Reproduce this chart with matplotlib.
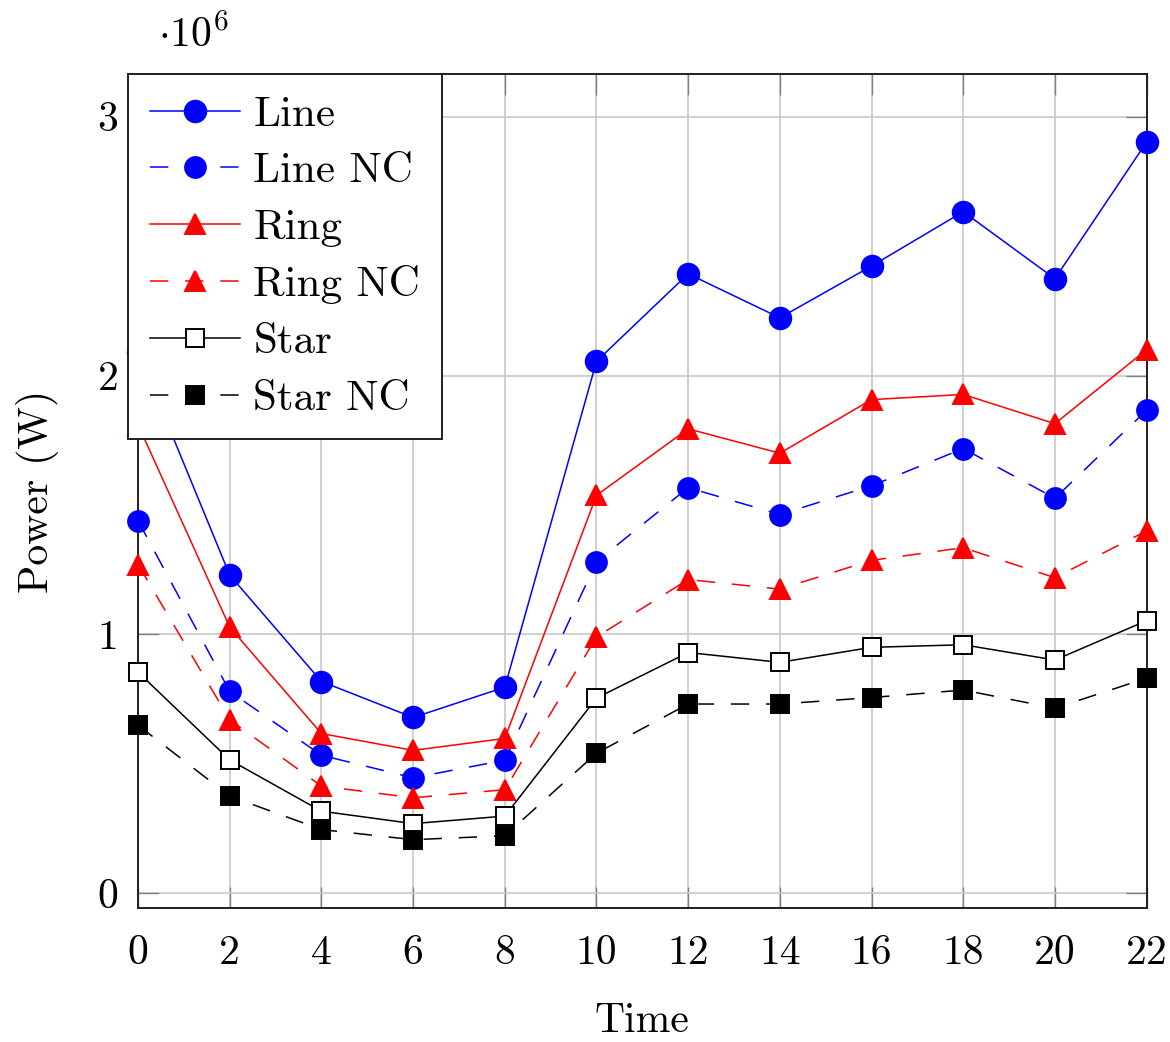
import matplotlib
matplotlib.use("Agg")
import matplotlib.pyplot as plt
import numpy as np

plt.rcParams['font.family'] = 'cmr10'
plt.rcParams['mathtext.fontset'] = 'cm'
plt.rcParams['axes.formatter.use_mathtext'] = True

# Time axis and series (values in units of 1e6 W)
time = [0, 2, 4, 6, 8, 10, 12, 14, 16, 18, 20, 22]
line = [2.09, 1.229, 0.818, 0.679, 0.796, 2.055, 2.393, 2.223, 2.423, 2.633, 2.374, 2.902]
line_nc = [1.439, 0.78, 0.533, 0.446, 0.514, 1.281, 1.567, 1.463, 1.574, 1.718, 1.526, 1.866]
ring = [1.81, 1.028, 0.617, 0.552, 0.598, 1.537, 1.794, 1.70, 1.907, 1.927, 1.814, 2.10]
ring_nc = [1.27, 0.67, 0.414, 0.369, 0.40, 0.99, 1.212, 1.175, 1.286, 1.335, 1.219, 1.40]
star = [0.854, 0.515, 0.317, 0.269, 0.298, 0.754, 0.930, 0.892, 0.950, 0.960, 0.901, 1.053]
star_nc = [0.649, 0.375, 0.246, 0.207, 0.222, 0.541, 0.731, 0.731, 0.756, 0.785, 0.715, 0.831]
scale = 1e6

fig = plt.figure(figsize=(11.7, 10.42), dpi=100)
ax = fig.add_axes([0.118, 0.1286, 0.862, 0.8004])

lw = 1.1
dash = (0, (12, 11))
series = [
    (line, "Line", "blue", "-", "o", 15.5, "blue"),
    (line_nc, "Line NC", "blue", dash, "o", 15, "blue"),
    (ring, "Ring", "red", "-", "^", 15, "red"),
    (ring_nc, "Ring NC", "red", dash, "^", 15, "red"),
    (star, "Star", "black", "-", "s", 13.5, "white"),
    (star_nc, "Star NC", "black", dash, "s", 13.5, "black"),
]
for vals, label, col, ls, mk, ms, fc in series:
    ax.plot(time, np.array(vals) * scale, color=col, linestyle=ls, linewidth=lw,
            marker=mk, markersize=ms, markerfacecolor=fc, markeredgecolor=col,
            markeredgewidth=1.4, label=label, clip_on=False, zorder=3)

ax.set_xlim(0, 22)
ax.set_ylim(-0.057 * scale, 3.165 * scale)
ax.set_xticks(time)
ax.set_xticklabels([str(t) for t in time])
ax.set_yticks([0, 1e6, 2e6, 3e6])
ax.set_yticklabels(["0", "1", "2", "3"])

ax.grid(True, color="#c8c8c8", linewidth=1.2)
ax.set_axisbelow(True)
ax.tick_params(direction="in", length=15, width=1.0, color="#808080",
               top=True, right=True, labelsize=30)
ax.tick_params(axis="x", pad=19)
ax.tick_params(axis="y", pad=14)
for sp in ax.spines.values():
    sp.set_linewidth(1.4)
    sp.set_color("#202020")

ax.set_xlabel("Time", fontsize=30, labelpad=22)
ax.set_ylabel("Power (W)", fontsize=30, labelpad=28)
fig.text(0.135, 0.955, r"$\cdot 10^{6}$", fontsize=30, ha="left", va="baseline")

leg = ax.legend(loc="upper left", bbox_to_anchor=(-0.0095, 1.0), borderaxespad=0,
                fontsize=31, handlelength=2.1, handletextpad=0.3,
                labelspacing=0.43, borderpad=0.5, fancybox=False, framealpha=1)
leg.get_frame().set_edgecolor("#202020")
leg.get_frame().set_linewidth(1.4)
leg.set_zorder(5)

fig.savefig("out.png", dpi=100)
